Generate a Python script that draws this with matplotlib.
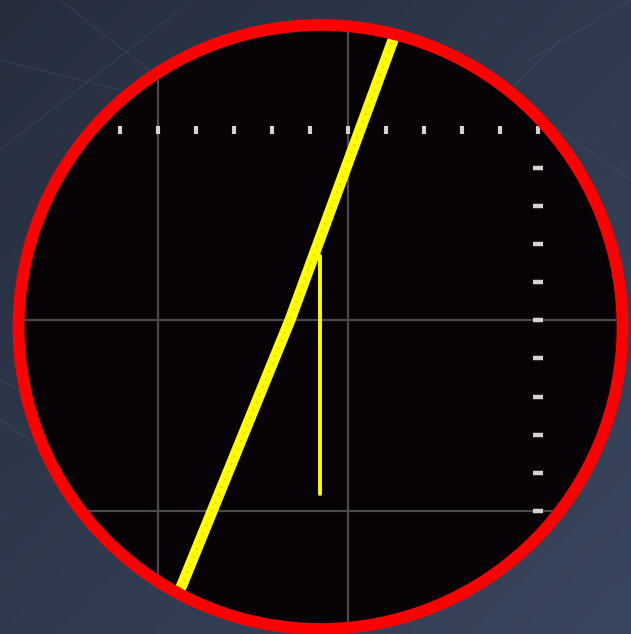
import numpy as np
import matplotlib
matplotlib.use("Agg")
import matplotlib.pyplot as plt
from matplotlib.patches import Circle

# scope screen geometry (pixel coords of the picture)
center = (320.5, 327.0)
radius = 301.0

# graticule lines
grid_x = [158, 348]
grid_y = [320, 511]

# dotted scale marks
dots_h_x = [120, 158, 196, 234, 272, 310, 348, 386, 424, 462, 500, 538]
dots_h_y = 130
dots_v_x = 538
dots_v_y = [168, 206, 244, 282, 320, 358, 397, 435, 473, 511]

# trace: thick ramp and thin vertical stub
ramp_x = [177, 182, 290, 393, 398]
ramp_y = [596, 585, 320, 40, 27]
stub_x = [320, 320]
stub_y = [256, 494]

# faint background circuit lines
bg_lines = [
    ([0, 180], [150, 10]),
    ([60, 200], [0, 110]),
    ([0, 120], [60, 90]),
    ([500, 631], [90, 180]),
    ([480, 560], [120, 40]),
    ([530, 631], [60, 0]),
    ([0, 90], [420, 480]),
    ([0, 120], [380, 440]),
]

fig = plt.figure(figsize=(6.31, 6.34), dpi=100)
ax = fig.add_axes([0, 0, 1, 1])
ax.set_xlim(0, 631)
ax.set_ylim(634, 0)
ax.axis("off")

# background gradient
gx, gy = np.meshgrid(np.linspace(0, 1, 64), np.linspace(0, 1, 64))
g = 0.5 * gx + 0.5 * gy
c0 = np.array([0x26, 0x2e, 0x3e]) / 255.
c1 = np.array([0x3a, 0x46, 0x5e]) / 255.
img = c0[None, None, :] * (1 - g[..., None]) + c1[None, None, :] * g[..., None]
ax.imshow(img, extent=[0, 631, 634, 0], aspect="auto", zorder=0)

for xs, ys in bg_lines:
    ax.plot(xs, ys, color="#5a6478", lw=1.2, alpha=0.2, zorder=1)

# screen
screen = Circle(center, radius, facecolor="#060205", edgecolor="none", zorder=2)
ax.add_patch(screen)

for x in grid_x:
    ln, = ax.plot([x, x], [0, 634], color="#4a4a4c", lw=1.6, zorder=3)
    ln.set_clip_path(screen)
for y in grid_y:
    ln, = ax.plot([0, 631], [y, y], color="#4a4a4c", lw=1.6, zorder=3)
    ln.set_clip_path(screen)

ax.scatter(dots_h_x, [dots_h_y] * len(dots_h_x), marker="|", s=28,
           linewidths=3.0, color="#d8d0d4", zorder=4)
ax.scatter([dots_v_x] * len(dots_v_y), dots_v_y, marker="_", s=50,
           linewidths=3.2, color="#d8d0d4", zorder=4)

# trace
tr, = ax.plot(ramp_x, ramp_y, color="#ffff00", lw=8.0,
              solid_joinstyle="round", zorder=5)
tr.set_clip_path(screen)
core, = ax.plot(ramp_x, ramp_y, color="#f2c000", lw=1.5, ls=(0, (1, 3)),
                alpha=0.7, zorder=6)
core.set_clip_path(screen)
ax.plot(stub_x, stub_y, color="#ffff00", lw=2.8, solid_capstyle="round",
        zorder=5)

# thin teal rim and red bezel
ax.add_patch(Circle(center, radius - 1, facecolor="none",
                    edgecolor="#2a7a8a", lw=1.0, zorder=7))
ax.add_patch(Circle(center, radius + 1, facecolor="none",
                    edgecolor="#ff0000", lw=8.5, zorder=8))

fig.savefig("out.png", dpi=100)
